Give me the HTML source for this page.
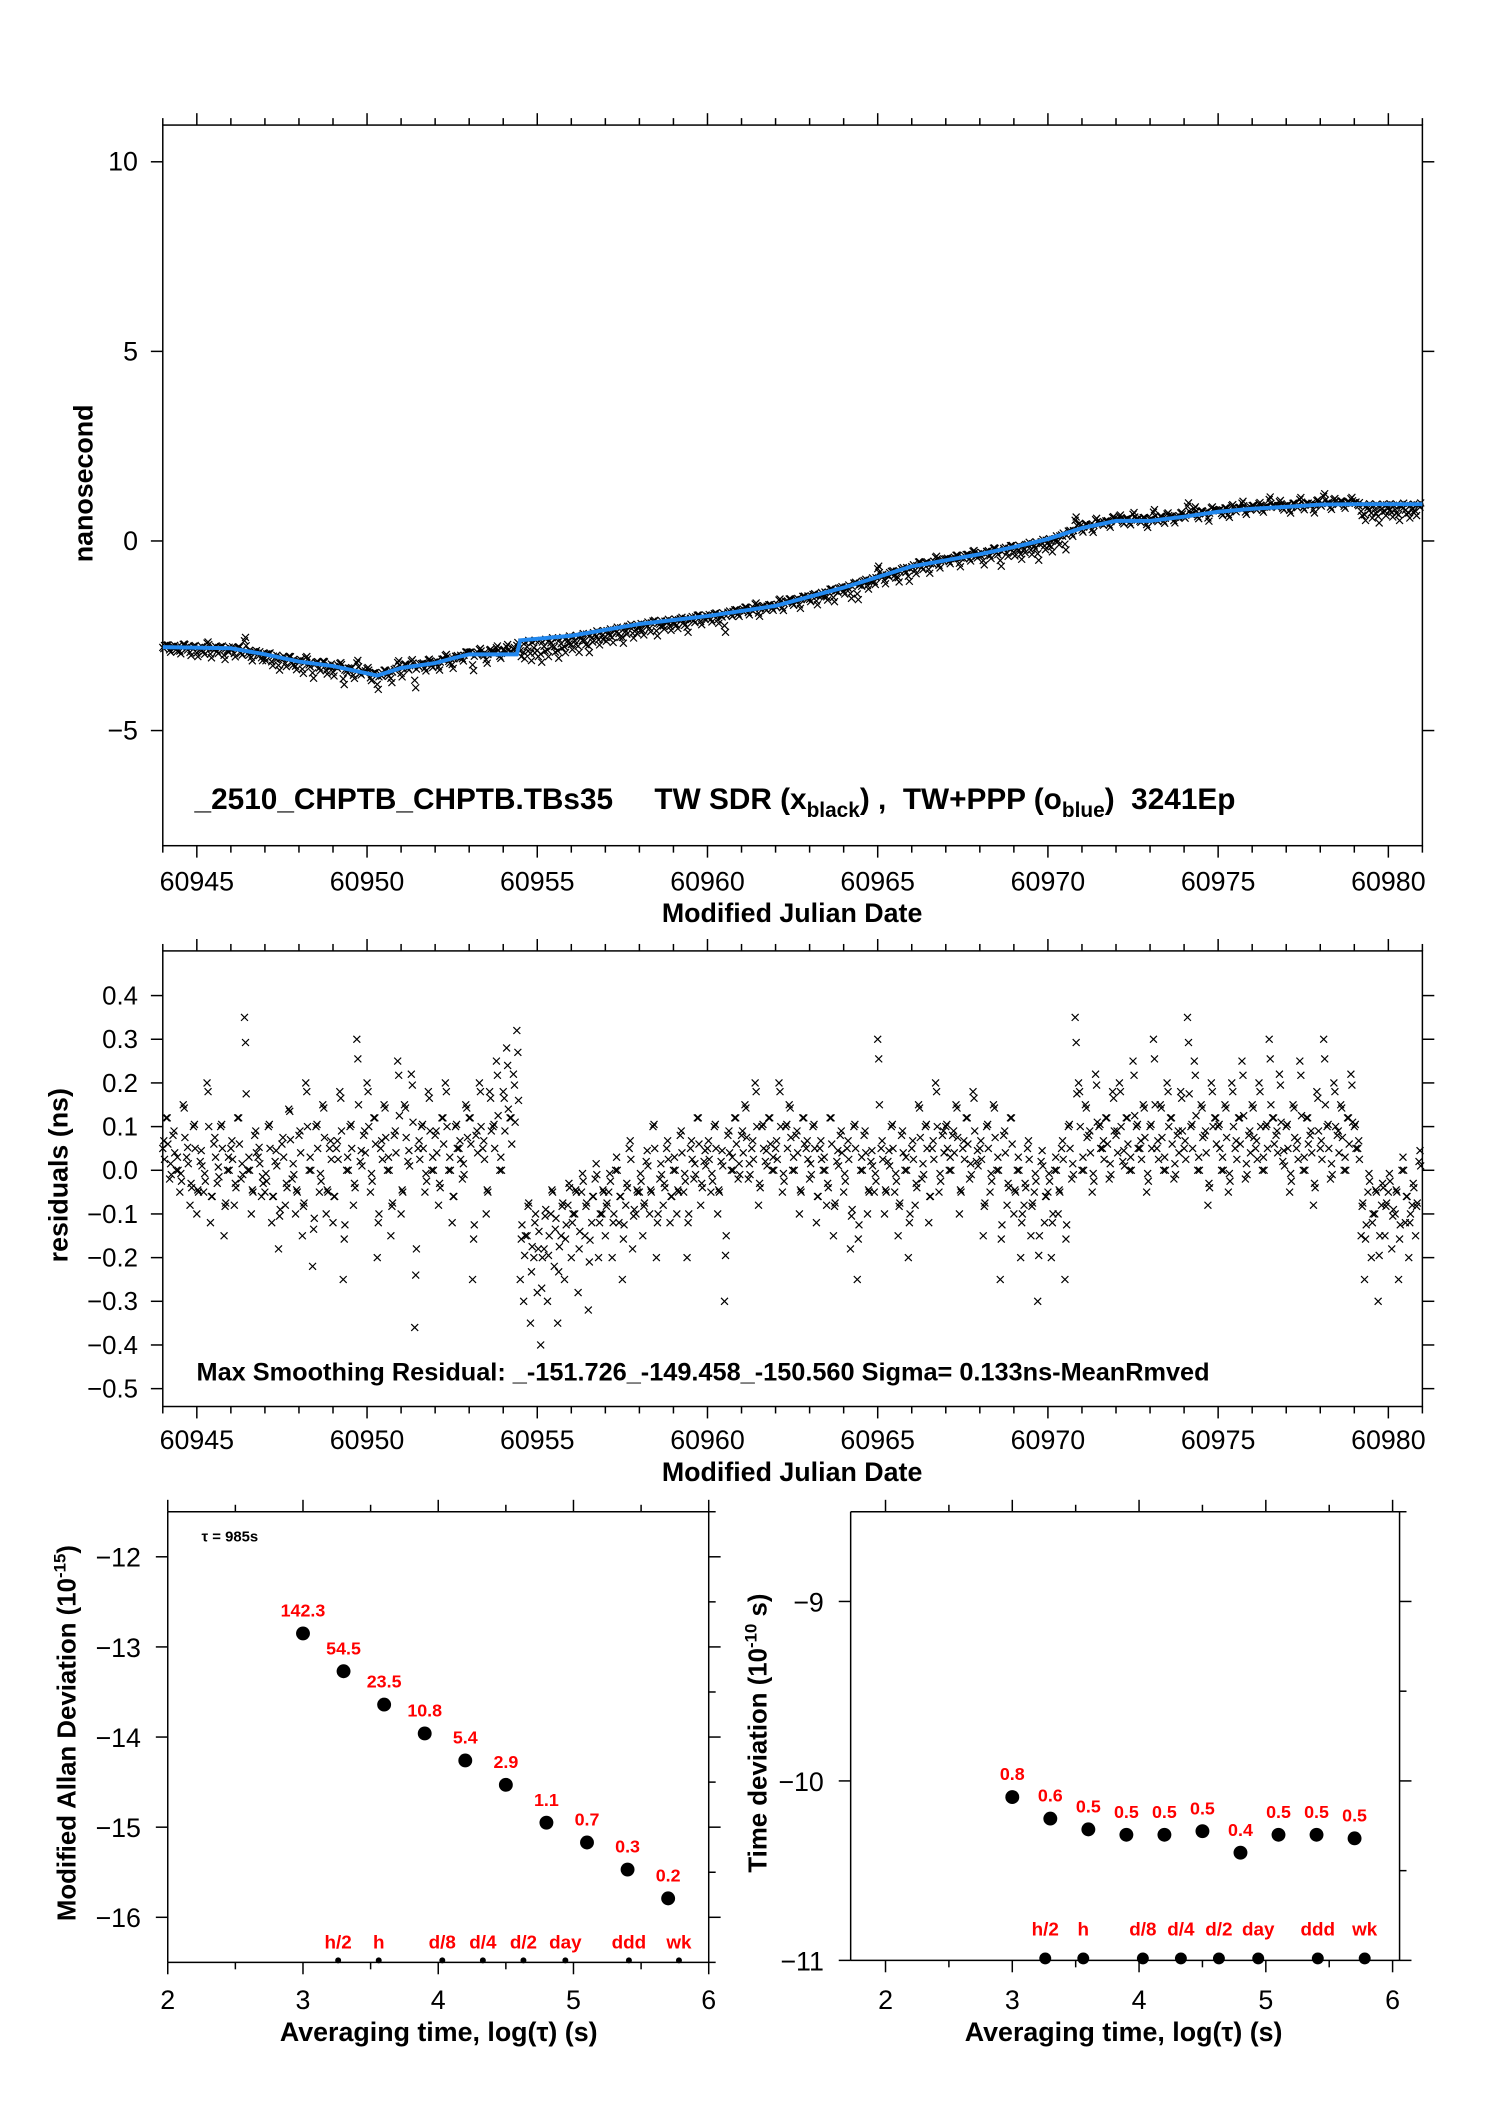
<!DOCTYPE html>
<html><head><meta charset="utf-8"><style>
html,body{margin:0;padding:0;background:#fff;}
svg{display:block;}
text{font-family:"Liberation Sans Narrow","Liberation Sans",sans-serif;}
.b{font-family:"Liberation Sans",sans-serif;font-weight:bold;}
</style></head><body>
<svg id="svg" width="1488" height="2105" xmlns="http://www.w3.org/2000/svg"></svg>
<script>
// ---- data ----
const smoothDays = [60944,60946,60947,60948,60949,60950.3,60951,60952,60952.5,60953,60954.4,60954.5,60956,60958,60960,60962,60964,60966,60968,60969,60970,60971,60972,60973,60974,60975,60976,60977,60978,60979,60980,60981];
const smoothNs   = [-2.8,-2.83,-2.99,-3.18,-3.3,-3.55,-3.35,-3.22,-3.1,-2.99,-2.99,-2.62,-2.5,-2.19,-1.98,-1.71,-1.23,-0.67,-0.35,-0.16,0.05,0.34,0.53,0.53,0.64,0.77,0.85,0.9,0.96,0.97,0.97,0.97];
const residStart = 60944;
const residStep = 0.1;
const resid = [
0.05,0.12,-0.02,0.08,0.0,-0.05,0.15,0.03,-0.08,0.1,
-0.1,0.02,-0.05,0.2,-0.12,0.06,-0.03,0.1,-0.15,0.0,
0.05,-0.08,0.12,-0.02,0.35,0.0,-0.1,0.08,0.03,-0.06,
-0.05,0.1,-0.12,0.02,-0.18,0.06,-0.08,0.14,-0.02,-0.1,
0.08,-0.15,0.2,0.0,-0.22,0.1,-0.05,0.15,-0.1,0.05,
-0.12,0.05,0.18,-0.25,0.0,0.1,-0.08,0.3,0.02,0.08,
0.2,-0.05,0.12,-0.2,0.05,0.15,0.0,-0.15,0.08,0.25,
-0.1,0.15,0.02,0.22,-0.36,0.05,0.1,-0.05,0.18,0.0,
0.08,-0.08,0.12,0.2,0.0,-0.12,0.1,0.05,-0.02,0.15,
0.12,-0.25,0.08,0.2,0.05,-0.1,0.18,0.1,0.25,0.0,
0.18,0.28,0.12,0.22,0.32,-0.25,-0.3,-0.15,-0.35,-0.2,
-0.28,-0.4,-0.18,-0.3,-0.1,-0.22,-0.35,-0.15,-0.25,-0.08,
-0.2,-0.1,-0.28,-0.05,-0.15,-0.32,-0.12,-0.02,-0.2,-0.1,
-0.15,-0.05,-0.2,0.0,-0.12,-0.25,-0.08,0.05,-0.18,-0.1,
-0.05,-0.15,0.02,-0.1,0.1,-0.2,-0.02,-0.08,0.05,-0.12,
0.0,-0.1,0.08,-0.05,-0.2,0.05,-0.02,0.12,-0.08,0.02,
0.05,-0.05,0.1,-0.1,0.02,-0.3,0.08,0.0,0.12,-0.02,
0.08,0.15,-0.02,0.05,0.2,-0.08,0.1,0.02,0.12,0.0,
0.05,0.2,-0.05,0.1,0.15,0.0,0.08,-0.1,0.12,0.05,
-0.02,0.1,-0.12,0.05,0.0,-0.08,0.12,-0.15,0.02,0.08,
-0.05,0.05,-0.18,0.1,-0.25,0.0,0.08,-0.1,0.02,-0.05,
0.3,0.05,-0.1,0.02,0.1,-0.05,-0.15,0.08,0.0,-0.2,
0.05,-0.08,0.15,-0.02,0.1,-0.12,0.05,0.2,-0.05,0.08,
0.1,0.0,0.08,0.15,-0.1,0.05,0.12,-0.02,0.18,0.02,
0.05,-0.15,0.1,-0.05,0.15,0.0,-0.25,0.08,-0.08,0.12,
-0.1,0.0,-0.2,-0.08,0.05,-0.15,-0.05,-0.3,0.02,-0.12,
-0.05,-0.2,0.0,-0.1,0.05,-0.25,0.1,-0.02,0.35,0.2,
0.0,0.15,0.08,-0.05,0.22,0.1,0.05,0.12,-0.02,0.18,
0.08,0.2,0.02,0.12,0.0,0.25,0.1,0.05,0.15,-0.05,
0.1,0.3,0.05,0.15,0.0,0.2,0.12,-0.02,0.08,0.18,
0.05,0.35,0.1,0.25,0.0,0.15,0.08,-0.08,0.2,0.12,
0.1,0.0,0.15,-0.05,0.2,0.05,0.12,0.25,-0.02,0.08,
0.15,0.05,0.2,0.0,0.1,0.3,0.12,0.08,0.22,0.02,
0.1,-0.05,0.15,0.05,0.25,0.0,0.12,0.08,-0.08,0.18,
0.05,0.3,0.1,-0.02,0.2,0.08,0.15,0.0,0.12,0.22,
0.1,0.05,-0.15,-0.25,-0.05,-0.2,-0.1,-0.3,-0.08,-0.15,
-0.05,-0.18,-0.1,-0.25,0.0,-0.12,-0.2,-0.08,-0.15,0.02];
const mjdTicks = [60945,60950,60955,60960,60965,60970,60975,60980];
const topYTicks = [10,5,0,-5];
const resYTicks = [0.4,0.3,0.2,0.1,0.0,-0.1,-0.2,-0.3,-0.4,-0.5];
const logTau = [3,3.3,3.6,3.9,4.2,4.5,4.8,5.1,5.4,5.7];
const madev = [-12.85,-13.27,-13.64,-13.96,-14.26,-14.53,-14.95,-15.17,-15.47,-15.79];
const madevLabels = ["142.3","54.5","23.5","10.8","5.4","2.9","1.1","0.7","0.3","0.2"];
const tdev = [-10.09,-10.21,-10.27,-10.30,-10.30,-10.28,-10.40,-10.30,-10.30,-10.32];
const tdevLabels = ["0.8","0.6","0.5","0.5","0.5","0.5","0.4","0.5","0.5","0.5"];
const markTau = [3.26,3.56,4.03,4.33,4.63,4.94,5.41,5.78];
const markNames = ["h/2","h","d/8","d/4","d/2","day","ddd","wk"];
const logXTicks = [2,3,4,5,6];
const madevYTicks = [-12,-13,-14,-15,-16];
const tdevYTicks = [-9,-10,-11];

// ---- helpers ----
const root = document.getElementById('svg');
const NS = 'http://www.w3.org/2000/svg';
const svg = document.createElementNS(NS,'g');
svg.setAttribute('transform','scale(0.9926)');


root.appendChild(svg);
function el(tag, attrs, parent){const e=document.createElementNS(NS,tag);for(const k in attrs)e.setAttribute(k,attrs[k]);(parent||svg).appendChild(e);return e;}
function txt(s, x, y, size, anchor, cls, fill, parent){const t=el('text',{x:x,y:y,'font-size':size,'text-anchor':anchor||'middle',fill:fill||'#000'},parent);if(cls)t.setAttribute('class',cls);t.textContent=s;return t;}
function line(x1,y1,x2,y2,w,parent){return el('line',{x1:x1,y1:y1,x2:x2,y2:y2,stroke:'#000','stroke-width':w||1.5},parent);}
function interp(xs,ys,x){if(x<=xs[0])return ys[0];for(let i=1;i<xs.length;i++){if(x<=xs[i]){const f=(x-xs[i-1])/(xs[i]-xs[i-1]);return ys[i-1]+f*(ys[i]-ys[i-1]);}}return ys[ys.length-1];}
function cross(x,y,s,parent){return el('path',{d:`M${x-s},${y-s}L${x+s},${y+s}M${x-s},${y+s}L${x+s},${y-s}`,stroke:'#000','stroke-width':1.2,fill:'none'},parent);}

// ---- MJD axis ----
const X0=164, X1=1433, D0=60944, D1=60981;
const xMJD = d => X0 + (d-D0)*(X1-X0)/(D1-D0);

function mjdFrame(g, top, bottom, labelY, titleY){
  el('rect',{x:X0,y:top,width:X1-X0,height:bottom-top,fill:'none',stroke:'#000','stroke-width':1.5},g);
  for(let d=D0; d<=D1; d++){
    const maj = mjdTicks.indexOf(d)>=0;
    const L = maj?12:7;
    line(xMJD(d),top,xMJD(d),top-L,1.5,g);
    line(xMJD(d),bottom,xMJD(d),bottom+L,1.5,g);
  }
  mjdTicks.forEach(d=>{
    const t=txt(String(d), xMJD(d), labelY, 27, 'middle', null, '#000', g);
    
    
  });
  const tt=txt('Modified Julian Date', 798, titleY, 27, 'middle', 'b', '#000', g);
  
  
}

// ---- top panel ----
const gTop = el('g',{});  
const yTop = v => 545 - v*38.2;
mjdFrame(gTop,126,852,897,929);
topYTicks.forEach(v=>{
  line(X0,yTop(v),X0-12,yTop(v),1.5,gTop); line(X1,yTop(v),X1+12,yTop(v),1.5,gTop);
  const t=txt(v<0?'\u2212'+Math.abs(v):String(v), 139, yTop(v)+9, 27, 'end', null,'#000',gTop);
   
});
const yl=txt('nanosecond',0,0,27,'middle','b','#000',gTop);
yl.setAttribute('transform','translate(93,487) rotate(-90)');
 
const gTopPts = el('g',{},gTop);  
resid.forEach((r,i)=>{
  const d=residStart+i*residStep; if(d>D1) return;
  const v=interp(smoothDays,smoothNs,d)+r*0.9;
  cross(xMJD(d),yTop(v)+2,3.5,gTopPts);
  cross(xMJD(d+0.05),yTop(v-r*0.6)-1,3.5,gTopPts);
  cross(xMJD(d+0.03),yTop(v+r*0.4)+4,3.5,gTopPts);
});
let pts=''; for(let i=0;i<smoothDays.length;i++){pts+=xMJD(smoothDays[i])+','+yTop(smoothNs[i])+' ';}
const pl=el('polyline',{points:pts,fill:'none',stroke:'#2288ee','stroke-width':4},gTop);
 
const ann=el('text',{x:196,y:815,'font-size':30,class:'b'},gTop);
 
ann.innerHTML='_2510_CHPTB_CHPTB.TBs35 \u00a0\u00a0\u00a0 TW SDR (x<tspan font-size="21" dy="8">black</tspan><tspan dy="-8">) ,\u00a0 TW+PPP (o</tspan><tspan font-size="21" dy="8">blue</tspan><tspan dy="-8">)\u00a0 3241Ep</tspan>';

// ---- residual panel ----
const gRes = el('g',{});  
const yRes = v => 1179 - v*440;
mjdFrame(gRes,958,1417,1460,1492);
resYTicks.forEach(v=>{
  line(X0,yRes(v),X0-12,yRes(v),1.5,gRes); line(X1,yRes(v),X1+12,yRes(v),1.5,gRes);
  const s=(v<0?'\u2212':'')+Math.abs(v).toFixed(1);
  const t=txt(s,139,yRes(v)+9,26,'end',null,'#000',gRes);
   
});
const yl2=txt('residuals (ns)',0,0,27,'middle','b','#000',gRes);
yl2.setAttribute('transform','translate(68,1184) rotate(-90)');
 
const gResPts = el('g',{},gRes);  
resid.forEach((r,i)=>{
  const d=residStart+i*residStep; if(d>D1) return;
  cross(xMJD(d),yRes(r),3.5,gResPts);
  cross(xMJD(d+0.05),yRes(r*0.5),3.5,gResPts);
  cross(xMJD(d+0.03),yRes(r*0.75+0.03),3.5,gResPts);
});
const ann2=txt('Max Smoothing Residual: _-151.726_-149.458_-150.560  Sigma= 0.133ns-MeanRmved',198,1391,25.5,'start','b','#000',gRes);
 

// ---- stability panels ----
function stabPanel(name, L, R, T, B, xv0, xv1, yv0, yv1, yTicks, yMinorStep, vals, labels, title, titleCx, yTitleX, dotOnAxisR){
  const g=el('g',{});  
  const xs=v=>L+(v-xv0)*(R-L)/(xv1-xv0);
  const ys=v=>B-(v-yv0)*(B-T)/(yv1-yv0);
  line(L,T,R,T,1.5,g); line(L,B,R,B,1.5,g); line(L,T,L,B,1.5,g); line(R,T,R,B,1.5,g);
  for(let v=2; v<=6.001; v+=0.5){
    const maj=Math.abs(v-Math.round(v))<1e-6, len=maj?12:7;
    line(xs(v),T,xs(v),T-len,1.5,g); line(xs(v),B,xs(v),B+len,1.5,g);
  }
  for(let v=Math.ceil(yv0/yMinorStep)*yMinorStep; v<=yv1+1e-6; v+=yMinorStep){
    const maj=Math.abs(v-Math.round(v))<1e-6, len=maj?12:7;
    line(R,ys(v),R+len,ys(v),1.5,g);
    if(maj) line(L,ys(v),L-len,ys(v),1.5,g);
  }
  logXTicks.forEach(v=>{const t=txt(String(v),xs(v),2024,27,'middle',null,'#000',g);});
  yTicks.forEach(v=>{const t=txt('\u2212'+Math.abs(v),L-27,ys(v)+10,27,'end',null,'#000',g);});
  const xt=txt('Averaging time, log(\u03c4) (s)',titleCx,2056,27,'middle','b','#000',g);
   
  const yt=el('text',{'font-size':26,'text-anchor':'middle',class:'b',transform:`translate(${yTitleX},1746) rotate(-90)`},g);
   
  yt.innerHTML=title;
  logTau.forEach((v,i)=>{
    const c=el('circle',{cx:xs(v),cy:ys(vals[i]),r:7,fill:'#000'},g);
     
    const t=txt(labels[i],xs(v),ys(vals[i])-17,18,'middle','b','#f00',g);
     
  });
  markTau.forEach((v,i)=>{
    const c=el('circle',{cx:xs(v),cy:B-2,r:dotOnAxisR,fill:'#000'},g);
     
    const t=txt(markNames[i],xs(v),dotOnAxisR>4?B-25:B-14,19,'middle','b','#f00',g);
     
  });
  return g;
}
stabPanel('mod-allan-deviation-panel',169,714,1523,1977,2,6,-16.5,-11.5,madevYTicks,0.5,madev,madevLabels,
  'Modified Allan Deviation (10<tspan font-size="17" dy="-10">-15</tspan><tspan dy="10">)</tspan>',442,76,3);
const tauNote=txt('\u03c4 = 985s',203,1553,15,'start','b','#000');
 
stabPanel('time-deviation-panel',857,1410,1523,1975,1.725,6.055,-11,-8.5,tdevYTicks,0.5,tdev,tdevLabels,
  'Time deviation (10<tspan font-size="17" dy="-10">-10</tspan><tspan dy="10"> s)</tspan>',1132,772,6);
</script>
</body></html>
